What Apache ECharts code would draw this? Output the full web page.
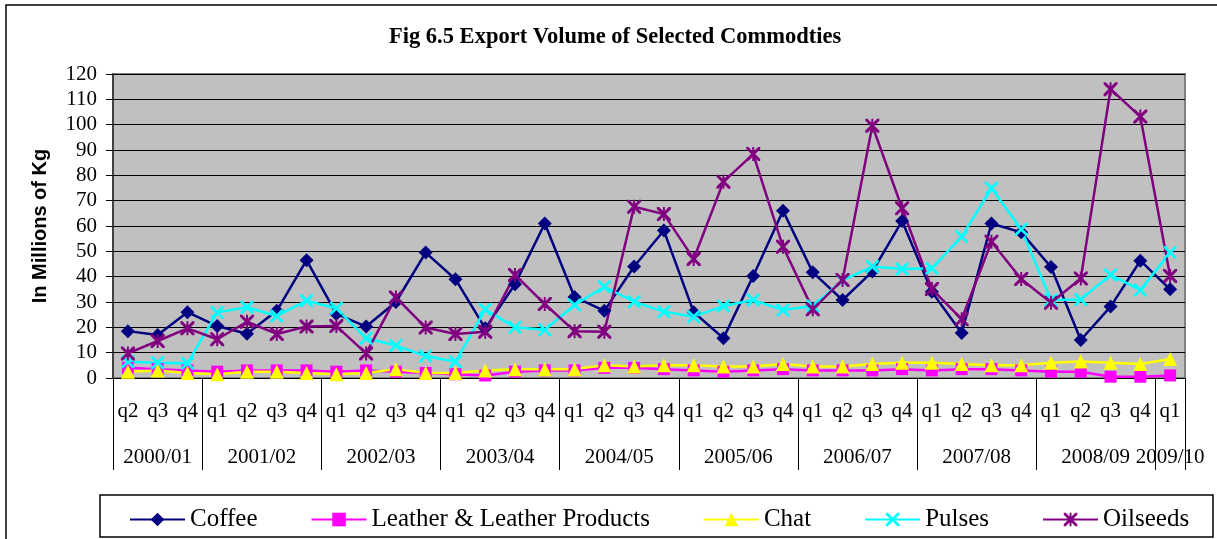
<!DOCTYPE html>
<html>
<head>
<meta charset="utf-8">
<script src="https://cdn.jsdelivr.net/npm/echarts@6/dist/echarts.min.js"></script>
<style>
  html, body { margin: 0; padding: 0; background: #fff; }
  #chart { width: 1217px; height: 539px; }
</style>
</head>
<body>
<div id="chart"></div>
<script>
// quarters, fiscal year groups
const quarters = ["q2","q3","q4",
  "q1","q2","q3","q4", "q1","q2","q3","q4", "q1","q2","q3","q4", "q1","q2","q3","q4",
  "q1","q2","q3","q4", "q1","q2","q3","q4", "q1","q2","q3","q4", "q1","q2","q3","q4", "q1"];
const years = ["2000/01","2001/02","2002/03","2003/04","2004/05","2005/06","2006/07","2007/08","2008/09","2009/10"];
const yearBounds = [0, 3, 7, 11, 15, 19, 23, 27, 31, 35, 36];
const yearCenters = [1.5, 5, 9, 13, 17, 21, 25, 29, 33, 35.5];

// values (millions of kg)
const coffee   = [18.5,17,26,20.5,17.5,26.5,46.5,25.3,20.3,30,49.5,39,19.6,37,61,32,26.5,44,58.2,26,15.7,40.3,66,41.7,30.8,42,62,34,17.8,61,57.5,43.8,15,28.2,46.3,35];
const leather  = [4,3.5,3,2.5,3,3,3,2.5,3,2.5,2,1.5,1,2.5,3,3,4,4,3.5,3,2.5,3,3.5,3,3,3,3.5,3,3.5,3.5,3,2.5,2.5,0.5,0.5,1];
const chat     = [2.5,3,2,1.5,2.5,2.5,2,1.5,2,3.5,2,2,3,3.5,3.5,3.5,5,4.5,5,5,4.5,4.5,5.5,4.5,4.5,5.5,6,6,5.5,5,5,6,6.5,6,5.5,7.5];
const pulses   = [6.4,6,5.8,25.9,27.9,24.5,30.5,27.5,15.7,12.8,8.7,6.4,27.1,20,19,28.8,36,30.1,26.2,24.2,28.4,30.8,26.8,28.4,38.5,44,43,43.3,55.8,74.9,58.7,30.8,31,40.7,34.7,49.5];
const oilseeds = [9.7,14.6,19.6,15.3,22.2,17.4,20.3,20.5,9.7,31.8,19.9,17.4,18.3,40.7,29.2,18.5,18.3,67.6,64.7,47,77.5,88.4,51.8,27.1,38.7,99.6,67,35.1,23.2,53.8,39.1,29.7,39.3,114,103.2,40.3];

const serif = "'Liberation Serif', 'DejaVu Serif', serif";
const sans = "'Liberation Sans', Arial, sans-serif";

const xMark = "path://M0,0 L3,0 L10,7 L17,0 L20,0 L20,3 L13,10 L20,17 L20,20 L17,20 L10,13 L3,20 L0,20 L0,17 L7,10 L0,3 Z";
const starMark = "path://M0,0 L3,0 L10,7 L17,0 L20,0 L20,3 L13,10 L20,17 L20,20 L17,20 L10,13 L3,20 L0,20 L0,17 L7,10 L0,3 Z M8.6,0 L11.4,0 L11.4,20 L8.6,20 Z";

function line(name, data, color, symbol, size) {
  return {
    name: name,
    type: "line",
    data: data,
    symbol: symbol,
    symbolSize: size,
    showAllSymbol: true,
    lineStyle: { color: color, width: 2.5 },
    itemStyle: { color: color },
    emphasis: { disabled: true },
    animation: false,
  };
}

const chart = echarts.init(document.getElementById("chart"));
chart.setOption({
  backgroundColor: "#ffffff",
  animation: false,
  title: {
    text: "Fig 6.5 Export Volume of Selected Commodties",
    left: 384,
    top: 21,
    textStyle: { fontFamily: serif, fontWeight: "bold", fontSize: 22.5, color: "#000" },
  },
  grid: {
    left: 113, right: 32, top: 74, bottom: 161,
    show: true,
    backgroundColor: "#c0c0c0",
    borderColor: "#808080",
    borderWidth: 2,
  },
  legend: {
    left: 124,
    top: 502,
    itemWidth: 55,
    itemHeight: 17,
    itemGap: 53,
    textStyle: { fontFamily: serif, fontSize: 25, color: "#000" },
    data: ["Coffee", "Leather & Leather Products", "Chat", "Pulses", "Oilseeds"],
  },
  xAxis: [
    {
      type: "category",
      data: quarters,
      boundaryGap: true,
      axisLine: { lineStyle: { color: "#000", width: 1 } },
      axisTick: { interval: 0, length: 48, lineStyle: { color: "#000" } },
      axisLabel: { interval: 0, margin: 23, fontFamily: serif, fontSize: 21, color: "#000" },
      splitLine: { show: false },
    },
    {
      type: "value",
      position: "bottom",
      min: 0,
      max: 36,
      axisLine: { show: false },
      axisTick: { show: true, customValues: yearBounds, length: 92, lineStyle: { color: "#000" } },
      axisLabel: {
        customValues: yearCenters,
        margin: 69,
        fontFamily: serif, fontSize: 21, color: "#000",
        formatter: function (v) {
          const i = yearCenters.indexOf(v);
          return i >= 0 ? years[i] : "";
        },
      },
      splitLine: { show: false },
    },
  ],
  yAxis: {
    type: "value",
    min: 0,
    max: 120,
    interval: 10,
    name: "In Millions of Kg",
    nameLocation: "middle",
    nameGap: 63,
    nameRotate: 90,
    nameTextStyle: { fontFamily: sans, fontWeight: "bold", fontSize: 20, color: "#000" },
    axisLine: { show: true, lineStyle: { color: "#404040", width: 2 } },
    axisTick: { show: true, length: 7, lineStyle: { color: "#000" } },
    axisLabel: { margin: 16, fontFamily: serif, fontSize: 21, color: "#000" },
    splitLine: { lineStyle: { color: "#000", width: 1 } },
  },
  graphic: [
    { type: "rect", shape: { x: 6, y: 5, width: 1240, height: 560 }, style: { fill: "none", stroke: "#000", lineWidth: 1.5 }, silent: true },
    { type: "rect", shape: { x: 100, y: 495, width: 1113, height: 42 }, style: { fill: "none", stroke: "#000", lineWidth: 1.5 }, silent: true },
  ],
  series: [
    line("Coffee", coffee, "#000080", "diamond", 14),
    line("Leather & Leather Products", leather, "#ff00ff", "rect", 12),
    line("Chat", chat, "#ffff00", "triangle", 14),
    line("Pulses", pulses, "#00ffff", xMark, 13),
    line("Oilseeds", oilseeds, "#800080", starMark, 14),
  ],
});
</script>
</body>
</html>
